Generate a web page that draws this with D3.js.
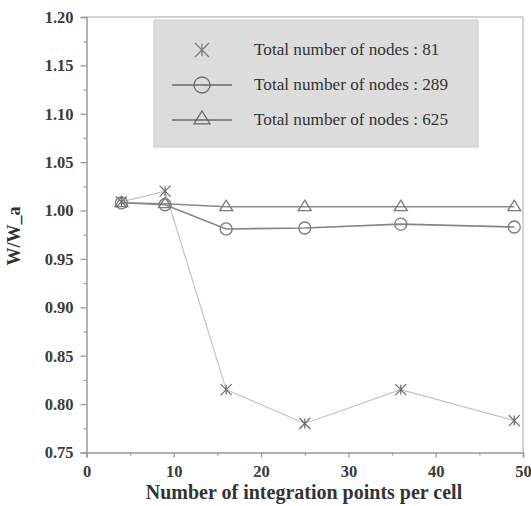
<!DOCTYPE html>
<html>
<head>
<meta charset="utf-8">
<script src="https://cdn.jsdelivr.net/npm/d3@7"></script>
<style>
  html, body { margin: 0; padding: 0; background: #fff; }
  svg { display: block; }
</style>
</head>
<body>
<svg id="chart" width="531" height="506"></svg>
<script>
// Integration points per cell (x) and normalised energy W/W_a for three meshes
const points = [4, 9, 16, 25, 36, 49];
const nodes81 = [1.009, 1.020, 0.815, 0.780, 0.815, 0.783];
const nodes289 = [1.008, 1.006, 0.981, 0.982, 0.986, 0.983];
const nodes625 = [1.008, 1.007, 1.004, 1.004, 1.004, 1.004];
const seriesNames = ["Total number of nodes : 81", "Total number of nodes : 289", "Total number of nodes : 625"];
const xTicks = [0, 10, 20, 30, 40, 50];
const yTicks = [0.75, 0.80, 0.85, 0.90, 0.95, 1.00, 1.05, 1.10, 1.15, 1.20];

const svg = d3.select("#chart");
const plotLeft = 86.5, plotRight = 523, plotTop = 17, plotBottom = 452.5;

const x = d3.scaleLinear().domain([0, 50]).range([plotLeft, plotRight]);
const y = d3.scaleLinear().domain([0.75, 1.20]).range([plotBottom, plotTop]);

const axisColor = "#9a9a9a";
const textColor = "#3a3a3a";
const font = "'Liberation Serif', 'Times New Roman', serif";

// frame: top and right edges
svg.append("line").attr("x1", plotLeft).attr("x2", plotRight).attr("y1", plotTop).attr("y2", plotTop)
  .attr("stroke", "#c4c4c4").attr("stroke-width", 1.5);
svg.append("line").attr("x1", plotRight).attr("x2", plotRight).attr("y1", plotTop).attr("y2", plotBottom)
  .attr("stroke", "#c4c4c4").attr("stroke-width", 1.5);

// minor ticks
const yMinor = d3.range(0.775, 1.2, 0.05);
const xMinor = d3.range(5, 50, 10);
const yMinorAxis = d3.axisLeft(y).tickValues(yMinor).tickSize(3).tickFormat("");
const xMinorAxis = d3.axisBottom(x).tickValues(xMinor).tickSize(3).tickFormat("");
svg.append("g").attr("transform", `translate(${plotLeft},0)`).call(yMinorAxis)
  .call(g => g.select(".domain").remove())
  .call(g => g.selectAll("line").attr("stroke", axisColor).attr("stroke-width", 1.2));
svg.append("g").attr("transform", `translate(0,${plotBottom})`).call(xMinorAxis)
  .call(g => g.select(".domain").remove())
  .call(g => g.selectAll("line").attr("stroke", axisColor).attr("stroke-width", 1.2));

// major axes
const yAxis = d3.axisLeft(y).tickValues(yTicks).tickSize(6).tickPadding(7).tickFormat(d3.format(".2f"));
const xAxis = d3.axisBottom(x).tickValues(xTicks).tickSize(5).tickPadding(8).tickFormat(d3.format("d"));

svg.append("g").attr("transform", `translate(${plotLeft},0)`).call(yAxis)
  .call(g => g.select(".domain").attr("stroke", axisColor).attr("stroke-width", 1.5))
  .call(g => g.selectAll("line").attr("stroke", axisColor).attr("stroke-width", 1.3))
  .call(g => g.selectAll("text").attr("fill", textColor).attr("font-family", font)
    .attr("font-weight", "bold").attr("font-size", 16.5));

svg.append("g").attr("transform", `translate(0,${plotBottom})`).call(xAxis)
  .call(g => g.select(".domain").attr("stroke", axisColor).attr("stroke-width", 1.5))
  .call(g => g.selectAll("line").attr("stroke", axisColor).attr("stroke-width", 1.3))
  .call(g => g.selectAll("text").attr("fill", textColor).attr("font-family", font)
    .attr("font-weight", "bold").attr("font-size", 16.5));

// axis titles
svg.append("text").attr("x", 304).attr("y", 499).attr("text-anchor", "middle")
  .attr("font-family", font).attr("font-weight", "bold").attr("font-size", 20)
  .attr("fill", "#333").text("Number of integration points per cell");
svg.append("text").attr("transform", "translate(20,236) rotate(-90)").attr("text-anchor", "middle")
  .attr("font-family", font).attr("font-weight", "bold").attr("font-size", 18)
  .attr("fill", "#333").text("W/W_a");

// marker drawers
function asterisk(g, cx, cy, s, color) {
  const p = d3.path();
  p.moveTo(cx - s, cy - s); p.lineTo(cx + s, cy + s);
  p.moveTo(cx - s, cy + s); p.lineTo(cx + s, cy - s);
  p.moveTo(cx, cy - s * 0.9); p.lineTo(cx, cy + s * 0.9);
  g.append("path").attr("d", p.toString()).attr("stroke", color).attr("stroke-width", 1.2).attr("fill", "none");
}
function circle(g, cx, cy, r, color) {
  g.append("circle").attr("cx", cx).attr("cy", cy).attr("r", r)
    .attr("fill", "none").attr("stroke", color).attr("stroke-width", 1.3);
}
function triangle(g, cx, cy, s, color) {
  const p = d3.path();
  p.moveTo(cx, cy - s); p.lineTo(cx + s, cy + s * 0.6); p.lineTo(cx - s, cy + s * 0.6); p.closePath();
  g.append("path").attr("d", p.toString()).attr("fill", "none").attr("stroke", color).attr("stroke-width", 1.3);
}

const line = d3.line().x(d => x(d[0])).y(d => y(d[1]));
const plot = svg.append("g");

const series = [
  { values: nodes81, color: "#b4b4b4", lineColor: "#c2c2c2", width: 1.2, marker: (g, cx, cy, c) => asterisk(g, cx, cy, 5.5, "#6a6a6a") },
  { values: nodes289, color: "#7a7a7a", lineColor: "#858585", width: 1.6, marker: (g, cx, cy, c) => circle(g, cx, cy, 6, c) },
  { values: nodes625, color: "#7a7a7a", lineColor: "#8a8a8a", width: 1.6, marker: (g, cx, cy, c) => triangle(g, cx, cy, 6.5, c) }
];

series.forEach(s => {
  const data = points.map((p, i) => [p, s.values[i]]);
  plot.append("path").attr("d", line(data)).attr("fill", "none")
    .attr("stroke", s.lineColor).attr("stroke-width", s.width);
});
series.forEach(s => {
  points.forEach((p, i) => s.marker(plot, x(p), y(s.values[i]), s.color));
});

// legend
const lg = svg.append("g");
lg.append("rect").attr("x", 154).attr("y", 20).attr("width", 324).attr("height", 127)
  .attr("fill", "#dcdcdc").attr("stroke", "#c8c8c8").attr("stroke-width", 1);
const rowY = [50, 85, 120];
series.forEach((s, i) => {
  if (i > 0) {
    lg.append("line").attr("x1", 172).attr("x2", 232).attr("y1", rowY[i]).attr("y2", rowY[i])
      .attr("stroke", "#6a6a6a").attr("stroke-width", 1.3);
  }
  if (i === 0) asterisk(lg, 202, rowY[i], 7, "#7a7a7a");
  if (i === 1) circle(lg, 202, rowY[i], 8, "#6a6a6a");
  if (i === 2) triangle(lg, 202, rowY[i] - 1, 8, "#6a6a6a");
  lg.append("text").attr("x", 254).attr("y", rowY[i] + 5)
    .attr("font-family", font).attr("font-size", 17.2).attr("fill", "#333")
    .text(seriesNames[i]);
});
</script>
</body>
</html>
